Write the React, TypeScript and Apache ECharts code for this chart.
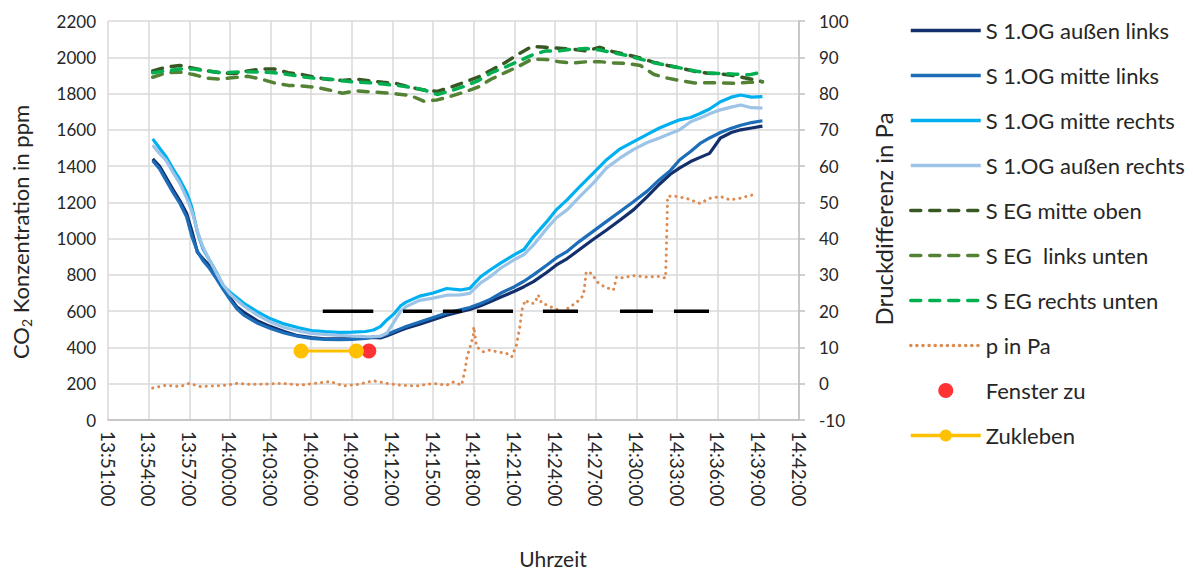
import React, { useEffect, useRef } from "react";
import * as echarts from "echarts";

// Time axis: minutes after 13:51:00
const T0_MIN = 13 * 60 + 51;
const X_MIN = 0;
const X_MAX = 51;
const X_STEP = 3;

// CO2 sensors 1. OG (ppm), sampled on a shared time base
const tBlue = [3.3, 3.8, 4.3, 4.8, 5.3, 5.8, 6.2, 6.6, 7.0, 7.5, 8.0, 8.5, 9.0, 9.5, 10.0, 11.0, 12.0, 13.0, 14.0, 15.0, 16.0, 17.0, 18.0, 19.0, 19.6, 20.1, 20.6, 21.1, 21.6, 22.0, 23.0, 24.0, 25.0, 26.0, 26.7, 27.5, 28.2, 29.0, 30.0, 30.7, 31.4, 32.4, 33.1, 33.9, 34.8, 35.8, 36.8, 37.8, 38.8, 39.8, 40.7, 41.5, 42.2, 43.0, 43.7, 44.4, 45.2, 46.0, 46.7, 47.5, 48.3];
const ogAussenLinks = [1440, 1400, 1335, 1270, 1210, 1140, 1040, 925, 890, 850, 790, 730, 675, 625, 595, 548, 515, 488, 465, 455, 448, 447, 450, 452, 455, 452, 465, 480, 495, 506, 528, 553, 578, 597, 610, 630, 652, 678, 710, 735, 763, 815, 855, 890, 940, 995, 1048, 1103, 1160, 1232, 1300, 1355, 1390, 1425, 1448, 1470, 1555, 1585, 1600, 1610, 1620];
const ogMitteLinks = [1430, 1385, 1320, 1255, 1195, 1120, 1010, 930, 880, 835, 780, 720, 665, 615, 580, 535, 505, 480, 462, 450, 445, 443, 445, 450, 458, 460, 472, 488, 503, 515, 540, 565, 590, 607, 620, 642, 665, 700, 735, 765, 800, 855, 895, 930, 985, 1040, 1095, 1150, 1205, 1262, 1325, 1375, 1435, 1480, 1525, 1555, 1585, 1608, 1625, 1640, 1650];
const ogMitteRechts = [1550, 1500, 1450, 1385, 1325, 1255, 1170, 1035, 945, 880, 815, 740, 705, 675, 645, 598, 558, 530, 510, 493, 487, 483, 485, 488, 496, 515, 553, 585, 630, 650, 683, 700, 725, 717, 726, 790, 827, 866, 912, 940, 1010, 1095, 1160, 1215, 1285, 1360, 1435, 1495, 1535, 1575, 1610, 1635, 1655, 1668, 1690, 1715, 1755, 1780, 1792, 1780, 1783];
const ogAussenRechts = [1515, 1470, 1430, 1365, 1305, 1225, 1150, 1040, 955, 880, 810, 745, 695, 662, 630, 580, 540, 510, 492, 478, 472, 467, 462, 460, 459, 462, 480, 540, 600, 625, 660, 672, 688, 690, 698, 756, 790, 838, 885, 912, 965, 1057, 1115, 1160, 1230, 1305, 1390, 1445, 1492, 1530, 1555, 1580, 1600, 1645, 1665, 1688, 1710, 1725, 1737, 1722, 1720];

// CO2 sensors EG (ppm)
const tGreen = [3.3, 4.3, 5.3, 6.3, 7.3, 8.3, 9.3, 10.3, 11.3, 12.3, 13.3, 14.3, 15.3, 16.3, 17.3, 18.3, 19.3, 20.3, 21.3, 22.3, 23.3, 24.3, 25.3, 26.3, 27.3, 28.3, 29.3, 30.3, 31.3, 32.3, 33.3, 34.3, 35.3, 36.3, 37.3, 38.3, 39.3, 40.3, 41.3, 42.3, 43.3, 44.3, 45.3, 46.3, 47.3, 48.3];
const egMitteOben = [1925, 1945, 1955, 1940, 1925, 1915, 1910, 1925, 1935, 1935, 1915, 1905, 1890, 1878, 1872, 1880, 1870, 1862, 1855, 1835, 1820, 1812, 1835, 1862, 1890, 1930, 1970, 2018, 2060, 2055, 2050, 2045, 2035, 2055, 2030, 2015, 1995, 1972, 1955, 1940, 1922, 1912, 1908, 1898, 1882, 1865];
const egLinksUnten = [1890, 1915, 1918, 1905, 1885, 1880, 1888, 1895, 1880, 1858, 1845, 1842, 1835, 1820, 1802, 1815, 1810, 1805, 1798, 1790, 1758, 1765, 1785, 1808, 1835, 1880, 1915, 1950, 1990, 1988, 1975, 1968, 1975, 1976, 1968, 1966, 1955, 1905, 1885, 1870, 1858, 1860, 1858, 1856, 1862, 1865];
const egRechtsUnten = [1915, 1925, 1935, 1935, 1925, 1915, 1918, 1920, 1918, 1915, 1905, 1893, 1884, 1880, 1870, 1863, 1860, 1852, 1845, 1835, 1820, 1795, 1815, 1840, 1870, 1915, 1945, 1978, 2012, 2035, 2035, 2045, 2048, 2040, 2025, 2010, 1990, 1970, 1955, 1940, 1925, 1913, 1910, 1907, 1903, 1918];

// Pressure difference (Pa)
const tPressure = [3.3, 4.3, 5.3, 6.0, 6.8, 7.8, 8.8, 9.5, 10.5, 11.7, 12.9, 14.2, 15.2, 16.4, 17.4, 18.4, 19.6, 20.6, 21.6, 22.8, 24.0, 25.0, 25.5, 26.1, 26.35, 26.5, 26.7, 26.95, 27.0, 27.2, 27.7, 28.2, 28.7, 29.4, 29.8, 30.15, 30.4, 30.55, 30.8, 31.1, 31.5, 31.75, 32.0, 32.4, 32.9, 33.6, 34.3, 34.8, 35.1, 35.3, 35.7, 36.1, 36.6, 37.3, 37.55, 38.0, 38.8, 39.8, 40.7, 41.15, 41.22, 41.3, 41.7, 42.7, 43.7, 44.4, 45.2, 45.9, 46.6, 47.9];
const pressurePa = [-1.2, -0.4, -0.8, 0.1, -0.8, -0.6, -0.4, 0.1, -0.2, -0.1, 0.1, -0.4, 0.1, 0.6, -0.6, -0.2, 0.8, 0.1, -0.4, -0.6, 0.1, -0.4, 0.5, -0.4, 3.8, 7.4, 9.8, 13.0, 15.7, 10.2, 8.8, 9.3, 8.8, 8.4, 7.4, 10.7, 15.7, 20.3, 23.1, 22.2, 22.2, 24.5, 22.2, 21.7, 20.8, 19.9, 21.7, 23.1, 24.5, 30.9, 30.4, 28.1, 26.8, 25.8, 29.5, 29.2, 29.8, 29.4, 29.6, 29.1, 37.8, 51.6, 51.8, 51.1, 49.7, 51.1, 51.6, 50.7, 51.1, 52.4];

// 20 Pa reference intervals (start, end in minutes)
const refLevelPa = 20;
const refStart = [15.85, 21.77, 24.72, 27.23, 32.1, 37.79, 41.77];
const refEnd = [19.58, 23.91, 26.12, 29.89, 34.69, 40.22, 44.36];

// Events
const zukleben = [[14.25, 9], [18.33, 9]];
const fensterZu = [[19.25, 9]];

const pair = (t: number[], v: number[]) => t.map((x, i) => [x, v[i]]);

const fmtTime = (m: number) => {
  const total = T0_MIN + Math.round(m);
  const h = Math.floor(total / 60);
  const mm = total % 60;
  return `${h}:${String(mm).padStart(2, "0")}:00`;
};

const FONT = "Lato";
const TXT = "#262626";

export default function App() {
  const ref = useRef<HTMLDivElement>(null);

  useEffect(() => {
    if (!ref.current) return;
    const chart = echarts.init(ref.current, undefined, { renderer: "svg" });

    const refData: any[] = [];
    refStart.forEach((s, i) => {
      refData.push([s, refLevelPa], [refEnd[i], refLevelPa], [refEnd[i], "-"]);
    });

    const blueLine = (name: string, v: number[], color: string) => ({
      type: "line",
      name,
      data: pair(tBlue, v),
      yAxisIndex: 0,
      symbol: "none",
      lineStyle: { color, width: 3.2 },
      itemStyle: { color },
      silent: true,
    });
    const greenLine = (name: string, v: number[], color: string) => ({
      type: "line",
      name,
      data: pair(tGreen, v),
      yAxisIndex: 0,
      symbol: "none",
      lineStyle: { color, width: 3.5, type: [10, 9], cap: "round" },
      itemStyle: { color },
      silent: true,
    });

    const names = [
      "S 1.OG außen links",
      "S 1.OG mitte links",
      "S 1.OG mitte rechts",
      "S 1.OG außen rechts",
      "S EG mitte oben",
      "S EG  links unten",
      "S EG rechts unten",
      "p in Pa",
      "Fenster zu",
      "Zukleben",
    ];
    // lines without markers show only their stroke in the legend
    const legendData = names.map((n, i) => (i < 8 ? { name: n, itemStyle: { opacity: 0 } } : { name: n }));

    chart.setOption({
      animation: false,
      backgroundColor: "#ffffff",
      textStyle: { fontFamily: FONT, color: TXT },
      grid: { left: 108, right: 394, top: 21, bottom: 153, containLabel: false },
      legend: {
        orient: "vertical",
        left: 909,
        top: 19,
        padding: 0,
        itemWidth: 70,
        itemHeight: 15,
        itemGap: 22,
        data: legendData,
        lineStyle: { width: 3.5 },
        textStyle: { fontFamily: FONT, fontSize: 22, color: TXT, lineHeight: 23 },
        selectedMode: false,
      },
      xAxis: {
        type: "value",
        min: X_MIN,
        max: X_MAX,
        interval: X_STEP,
        axisLine: { show: true, lineStyle: { color: "#BFBFBF", width: 1.5 } },
        axisTick: { show: false },
        splitLine: { show: true, lineStyle: { color: "#D9D9D9", width: 1.5 } },
        axisLabel: { rotate: -90, margin: 11, fontSize: 19, color: TXT, fontFamily: FONT, formatter: fmtTime },
      },
      yAxis: [
        {
          type: "value",
          min: 0,
          max: 2200,
          interval: 200,
          axisLine: { show: false },
          axisTick: { show: false },
          splitLine: { show: true, lineStyle: { color: "#D9D9D9", width: 1.5 } },
          axisLabel: { margin: 12, fontSize: 17, color: TXT, fontFamily: FONT, formatter: (v: number) => String(v) },
        },
        {
          type: "value",
          position: "right",
          min: -10,
          max: 100,
          interval: 10,
          axisLine: { show: true, lineStyle: { color: "#BFBFBF", width: 1.5 } },
          axisTick: { show: true, length: 6, inside: false, lineStyle: { color: "#BFBFBF", width: 1.5 } },
          splitLine: { show: false },
          axisLabel: { margin: 20, fontSize: 17, color: TXT, fontFamily: FONT, formatter: (v: number) => String(v) },
        },
      ],
      graphic: [
        {
          type: "text",
          x: 20,
          y: 232,
          rotation: Math.PI / 2,
          style: {
            text: "{a|CO}{s|2}{a| Konzentration in ppm}",
            align: "center",
            verticalAlign: "middle",
            fill: TXT,
            rich: {
              a: { fontFamily: FONT, fontSize: 22, fill: TXT, lineHeight: 26 },
              s: { fontFamily: FONT, fontSize: 14, fill: TXT, lineHeight: 26, verticalAlign: "bottom", padding: [9, 0, 0, 0] },
            },
          },
        },
        {
          type: "text",
          x: 883,
          y: 219,
          rotation: Math.PI / 2,
          style: { text: "Druckdifferenz in Pa", align: "center", verticalAlign: "middle", fill: TXT, font: `24px ${FONT}` },
        },
        {
          type: "text",
          x: 553,
          y: 558,
          style: { text: "Uhrzeit", align: "center", verticalAlign: "middle", fill: TXT, font: `21px ${FONT}` },
        },
      ],
      series: [
        blueLine(names[0], ogAussenLinks, "#14306C"),
        blueLine(names[1], ogMitteLinks, "#1C6EB9"),
        blueLine(names[2], ogMitteRechts, "#00B0F0"),
        blueLine(names[3], ogAussenRechts, "#9DC3E6"),
        greenLine(names[4], egMitteOben, "#385723"),
        greenLine(names[5], egLinksUnten, "#548235"),
        greenLine(names[6], egRechtsUnten, "#00B050"),
        {
          type: "line",
          name: names[7],
          data: pair(tPressure, pressurePa),
          yAxisIndex: 1,
          symbol: "none",
          lineStyle: { color: "#DD8A50", width: 3, type: [0.1, 6], cap: "round" },
          itemStyle: { color: "#DD8A50" },
          silent: true,
        },
        {
          type: "line",
          name: "Referenz 20 Pa",
          data: refData,
          yAxisIndex: 1,
          symbol: "none",
          connectNulls: false,
          lineStyle: { color: "#000000", width: 3.5 },
          silent: true,
        },
        {
          type: "scatter",
          name: names[8],
          data: fensterZu,
          yAxisIndex: 1,
          symbol: "circle",
          symbolSize: 15,
          itemStyle: { color: "#FF0000" },
          silent: true,
        },
        {
          type: "line",
          name: names[9],
          data: zukleben,
          yAxisIndex: 1,
          symbol: "circle",
          symbolSize: 15,
          showSymbol: true,
          lineStyle: { color: "#FFC000", width: 3 },
          itemStyle: { color: "#FFC000" },
          silent: true,
        },
      ],
    });

    return () => chart.dispose();
  }, []);

  return (
    <div
      ref={ref}
      style={{ position: "fixed", left: 0, top: 0, width: 1193, height: 573, background: "#fff" }}
    />
  );
}
